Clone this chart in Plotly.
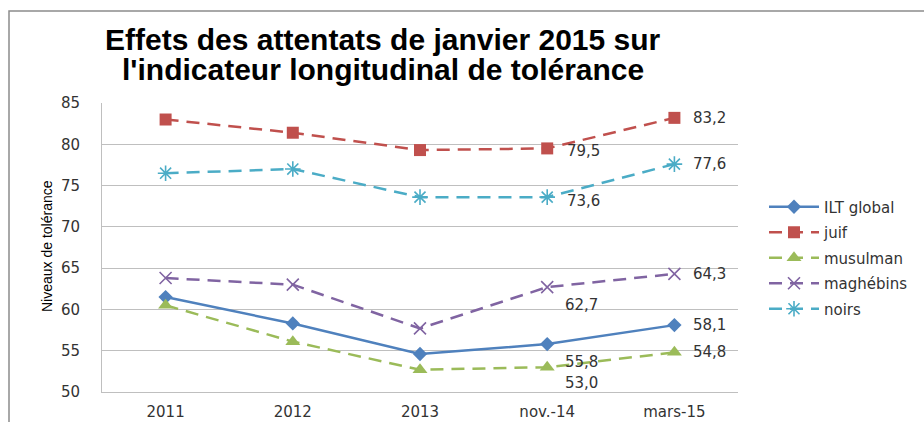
import plotly.graph_objects as go

categories = ["2011", "2012", "2013", "nov.-14", "mars-15"]
ilt_global = [61.5, 58.3, 54.6, 55.8, 58.1]
juif = [83.0, 81.4, 79.3, 79.5, 83.2]
musulman = [60.5, 56.1, 52.7, 53.0, 54.8]
maghrebins = [63.8, 63.0, 57.7, 62.7, 64.3]
noirs = [76.5, 77.0, 73.6, 73.6, 77.6]

title_lines = ["Effets des attentats de janvier 2015 sur",
               "l'indicateur longitudinal de tolérance"]
y_title = "Niveaux de tolérance"

series = [
    ("ILT global", ilt_global, "#4F81BD", "solid", "diamond", 11, 2.5),
    ("juif", juif, "#C0504D", "dash", "square", 12, 2.5),
    ("musulman", musulman, "#9BBB59", "dash", "triangle-up", 13, 2.5),
    ("maghébins", maghrebins, "#8064A2", "dash", "x-thin-open", 12, 2.5),
    ("noirs", noirs, "#4BACC6", "dash", "asterisk-open", 13, 2.5),
]

# label placement for nov.-14 (index 3): (xshift, yshift)
nov_shift = {
    "ILT global": (34, -18),
    "juif": (36, -3),
    "musulman": (34, -16),
    "maghébins": (34, -18),
    "noirs": (36, -4),
}

W, H = 924, 422
L, R, T, B = 102, 186, 103, 30
PW, PH = W - L - R, H - T - B
TXT = "#333333"

fig = go.Figure()
for name, vals, color, dash, sym, size, lw in series:
    open_sym = sym.endswith("open")
    fig.add_trace(go.Scatter(
        x=categories, y=vals, name=name, mode="lines+markers",
        legendgroup=name,
        line=dict(color=color, width=lw, dash="13px,8px" if dash == "dash" else "solid"),
        marker=dict(symbol=sym, size=size, color=color,
                    line=dict(color=color, width=1.6 if open_sym else 0)),
    ))

fmt = lambda v: f"{v:.1f}".replace(".", ",")
annotations = []
for name, vals, color, dash, sym, size, lw in series:
    xs, ys = nov_shift[name]
    annotations.append(dict(x=categories[3], y=vals[3], text=fmt(vals[3]),
                            showarrow=False, xshift=xs, yshift=ys,
                            font=dict(family="DejaVu Sans", size=15, color=TXT)))
    annotations.append(dict(x=categories[4], y=vals[4], text=fmt(vals[4]),
                            showarrow=False, xshift=35, yshift=0,
                            font=dict(family="DejaVu Sans", size=15, color=TXT)))

for line, cy in zip(title_lines, [39, 69]):
    annotations.append(dict(
        xref="paper", yref="paper", x=(383 - L) / PW, y=1.0, yshift=T - cy,
        xanchor="center", yanchor="middle",
        text=f"<b>{line}</b>", showarrow=False,
        font=dict(family="Liberation Sans", size=30, color="#000"),
    ))

annotations.append(dict(
    xref="paper", yref="paper", x=(47 - L) / PW, y=(H - B - 246) / PH,
    xanchor="center", yanchor="middle", textangle=-90,
    text=y_title, showarrow=False,
    font=dict(family="Liberation Sans", size=14, color="#000"),
))

fig.update_layout(
    width=W, height=H,
    margin=dict(l=L, r=R, t=T, b=B, autoexpand=False),
    paper_bgcolor="white", plot_bgcolor="white",
    showlegend=True,
    legend=dict(x=(764 - L) / PW, y=(H - B - 258) / PH, xanchor="left", yanchor="middle",
                font=dict(family="DejaVu Sans", size=15, color=TXT),
                itemwidth=50,
                tracegroupgap=3, bgcolor="rgba(0,0,0,0)"),
    annotations=annotations,
    shapes=[dict(type="rect", xref="paper", yref="paper",
                 x0=(9 - L) / PW, x1=1.5, y0=-0.5, y1=1 + (T - 11) / PH,
                 line=dict(color="#8C8C8C", width=1.5), fillcolor="rgba(0,0,0,0)",
                 layer="below")],
)
fig.update_xaxes(range=[-0.5, 4.5], showgrid=False, showline=True, linecolor="#BFBFBF",
                 linewidth=1, automargin=False,
                 tickfont=dict(family="DejaVu Sans", size=15, color=TXT),
                 ticks="", ticklabelstandoff=6)
fig.update_yaxes(range=[50, 85], dtick=5, showgrid=True, gridcolor="#BFBFBF", gridwidth=1,
                 showline=True, linecolor="#BFBFBF", linewidth=1, zeroline=False,
                 automargin=False,
                 tickfont=dict(family="DejaVu Sans", size=15, color=TXT),
                 ticks="", ticklabelstandoff=18)

fig.write_html("out.html", config={"displayModeBar": False},
               post_script="document.body.style.margin='0';document.body.style.overflow='hidden';")
